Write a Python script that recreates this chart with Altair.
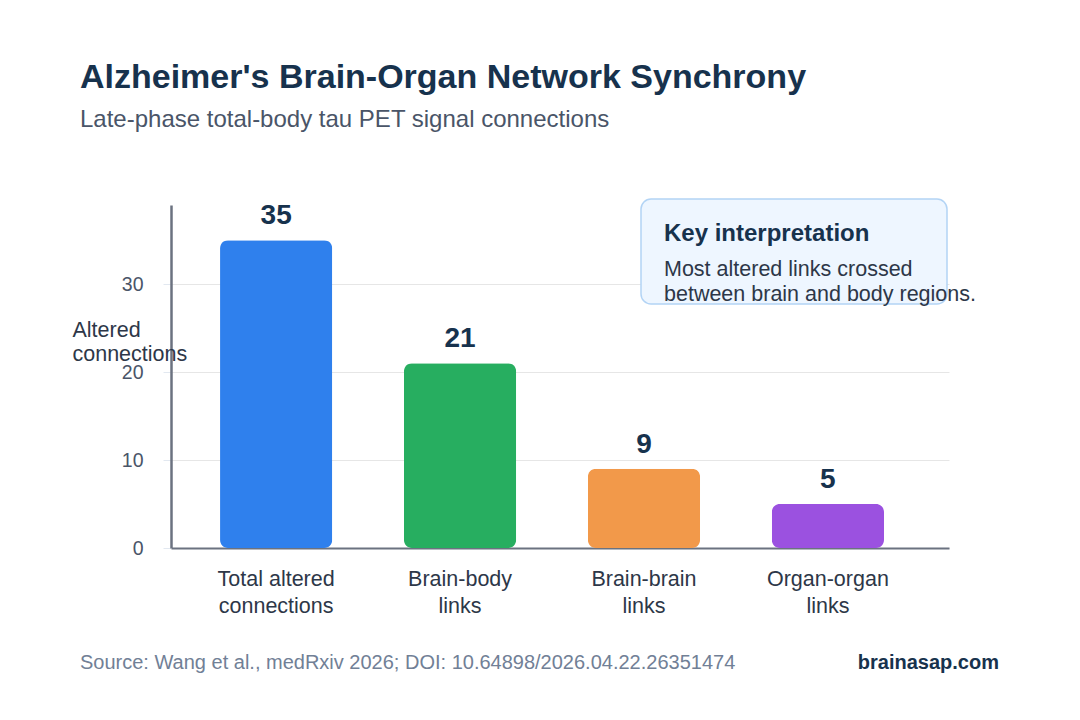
import altair as alt
import pandas as pd

categories = ["Total altered\nconnections", "Brain-body\nlinks", "Brain-brain\nlinks", "Organ-organ\nlinks"]
values = [35, 21, 9, 5]
colors = ["#2f80ed", "#27ae60", "#f2994a", "#9b51e0"]

title_text = "Alzheimer's Brain-Organ Network Synchrony"
subtitle_text = "Late-phase total-body tau PET signal connections"
note_title = "Key interpretation"
note_lines = ["Most altered links crossed", "between brain and body regions."]
source_text = "Source: Wang et al., medRxiv 2026; DOI: 10.64898/2026.04.22.26351474"
brand_text = "brainasap.com"

df = pd.DataFrame({"category": categories, "value": values})

FONT = "Liberation Sans"
DARK = "#17324d"


def text_layer(txt, x, y, size, color, weight="normal", align="left"):
    return alt.Chart(pd.DataFrame({"t": [txt]})).mark_text(
        font=FONT, fontSize=size, fontWeight=weight, color=color,
        align=align, baseline="alphabetic"
    ).encode(x=alt.value(x), y=alt.value(y), text="t:N")


x_enc = alt.X(
    "category:N",
    sort=categories,
    scale=alt.Scale(paddingInner=0.39, paddingOuter=0.31, align=0.43),
    axis=alt.Axis(
        title=None,
        labelAngle=0,
        labelExpr="split(datum.label, '\\n')",
        labelFont=FONT,
        labelFontSize=21.5,
        labelColor="#2d3748",
        labelLineHeight=27,
        labelPadding=20,
        ticks=False,
        domainColor="#6b7280",
        domainWidth=2,
        grid=False,
    ),
)

y_enc = alt.Y(
    "value:Q",
    scale=alt.Scale(domain=[0, 39], nice=False),
    axis=alt.Axis(
        values=[0, 10, 20, 30],
        title=["Altered", "connections"],
        titleAngle=0,
        titleAlign="left",
        titleBaseline="alphabetic",
        titleX=-99,
        titleY=131,
        titleFont=FONT,
        titleFontSize=21.5,
        titleFontWeight="normal",
        titleColor="#2d3748",
        titleLineHeight=24,
        labelFont=FONT,
        labelFontSize=19.5,
        labelColor="#4a5568",
        labelPadding=20,
        tickSize=8,
        tickColor="#e2e8f0",
        domainColor="#6b7280",
        domainWidth=2.5,
        gridColor="#e6e6e6",
        gridWidth=1,
    ),
)

bars = alt.Chart(df).mark_bar(cornerRadius=8).encode(
    x=x_enc,
    y=y_enc,
    color=alt.Color("category:N", sort=categories,
                    scale=alt.Scale(domain=categories, range=colors), legend=None),
)

labels = alt.Chart(df).mark_text(
    font=FONT, fontSize=28, fontWeight="bold", color=DARK, baseline="alphabetic", dy=-16
).encode(
    x=alt.X("category:N", sort=categories),
    y="value:Q",
    text="value:Q",
)

box = alt.Chart(pd.DataFrame({"k": [0]})).mark_rect(
    fill="#eef6ff", stroke="#b3d4f5", strokeWidth=1.5, cornerRadius=10
).encode(
    x=alt.value(470), x2=alt.value(776), y=alt.value(-6), y2=alt.value(99)
)

layers = [
    bars,
    labels,
    box,
    text_layer(note_title, 493, 36, 24, DARK, weight="bold"),
    text_layer(note_lines[0], 493, 71, 21.5, "#2d3748"),
    text_layer(note_lines[1], 493, 96, 21.5, "#2d3748"),
    text_layer(title_text, -91, -117, 34, DARK, weight="bold"),
    text_layer(subtitle_text, -91, -78, 24, "#4a5568"),
    text_layer(source_text, -91, 464, 20, "#718096"),
    text_layer(brand_text, 828, 464, 20, DARK, weight="bold", align="right"),
]

chart = alt.layer(*layers).properties(
    width=778,
    height=343,
    padding={"left": 163, "top": 197, "right": 123, "bottom": 164},
    autosize=alt.AutoSizeParams(type="none"),
    background="white",
).configure_view(strokeWidth=0, stroke="transparent")

chart.save("out.html", embed_options={"renderer": "svg", "actions": False})
